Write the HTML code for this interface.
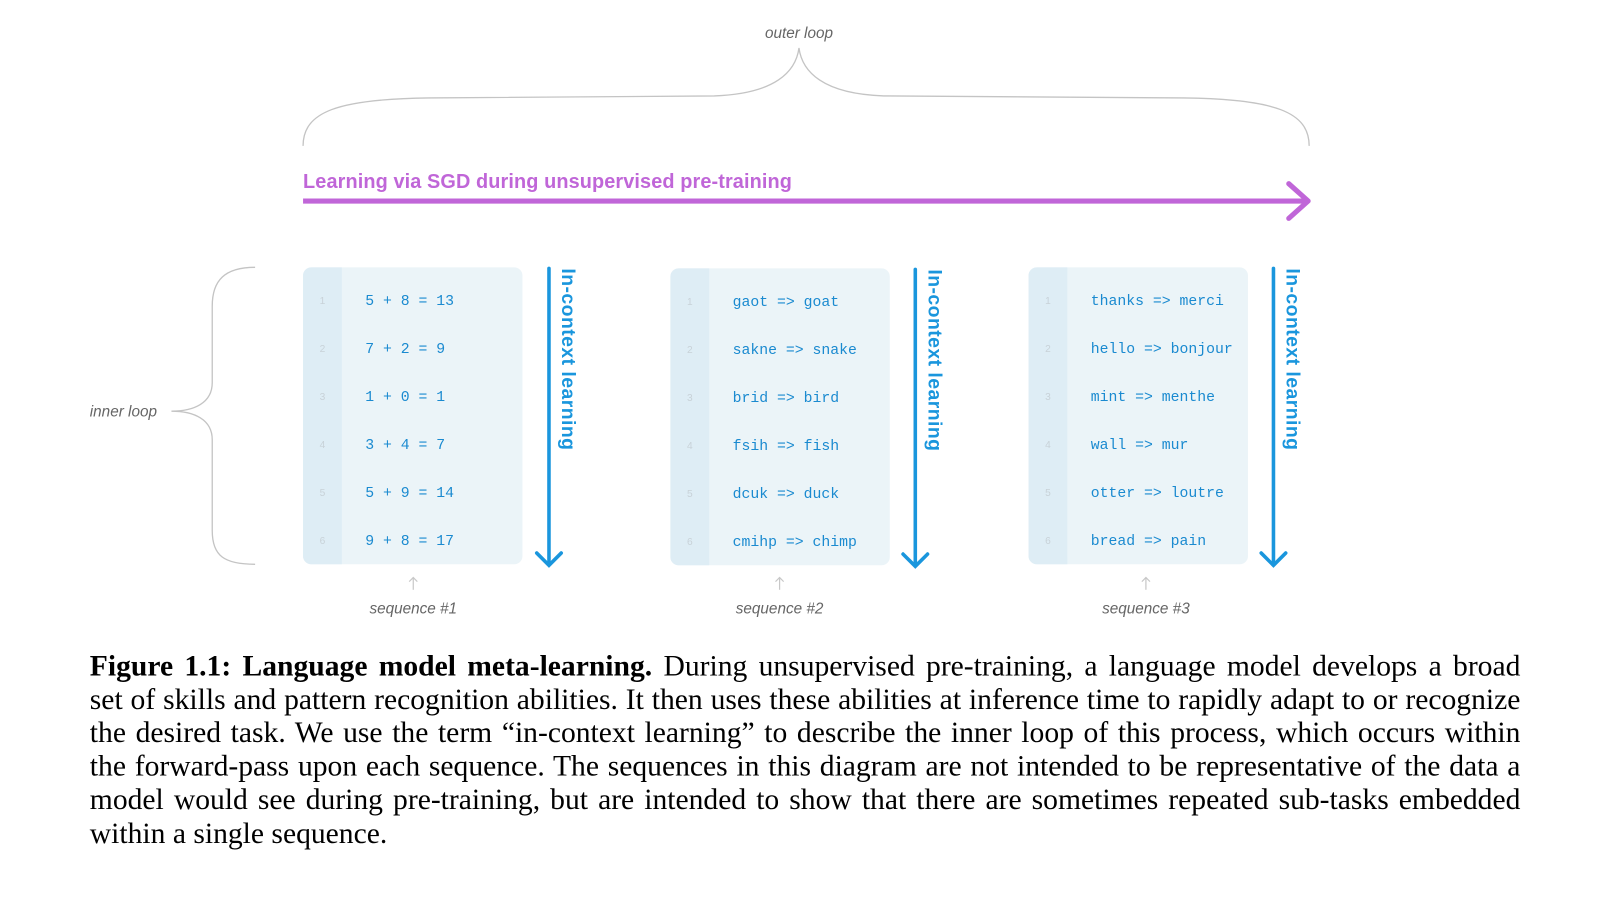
<!DOCTYPE html>
<html><head><meta charset="utf-8"><style>
body{margin:0;background:#fff;width:1600px;height:894px;overflow:hidden;position:relative}
#wrap{position:absolute;left:0;top:0;width:1600px;height:894px;transform:scale(1.0204);transform-origin:0 0}
svg{position:absolute;left:0;top:0}
.cap{position:absolute;left:88px;width:1402px;top:637px;font-family:"Liberation Serif",serif;font-size:29px;line-height:32.7px;color:#000}
.cap div{text-align:justify;text-align-last:justify;white-space:nowrap;overflow:visible}
.cap div.l{text-align-last:left}
</style></head><body><div id="wrap">
<svg width="1600" height="894" xmlns="http://www.w3.org/2000/svg">
<g fill="none" stroke="#c4c4c4" stroke-width="1.3">
<path d="M297,143 C297,110 330,97 420,96 L700,94 C760,92 780,70 783,47 C786,70 806,92 866,94 L1160,96 C1250,97 1283,110 1283,143"/>
<path d="M250,262 C220,262 208,275 208,300 L208,375 C208,395 190,403 168,403 C190,403 208,411 208,431 L208,520 C208,545 220,553 250,553"/>
</g>
<text x="783" y="37" font-family="Liberation Sans,sans-serif" font-style="italic" font-size="15" fill="#666" text-anchor="middle">outer loop</text>
<text x="88" y="408" font-family="Liberation Sans,sans-serif" font-style="italic" font-size="15" fill="#666">inner loop</text>
<text x="297" y="184" font-family="Liberation Sans,sans-serif" font-weight="bold" font-size="19.5" fill="#c066d8" textLength="479">Learning via SGD during unsupervised pre-training</text>
<line x1="297" y1="197" x2="1281" y2="197" stroke="#c066d8" stroke-width="5"/>
<polyline points="1263,180 1282,197 1263,214" fill="none" stroke="#c066d8" stroke-width="5" stroke-linecap="round" stroke-linejoin="round"/>

<g font-family="Liberation Mono,monospace" font-size="14.5" fill="#1a8ad0">
<rect x="297" y="262" width="215" height="291" rx="8" fill="#ebf4f8"/>
<path d="M305,262 H335 V553 H305 A8,8 0 0 1 297,545 V270 A8,8 0 0 1 305,262 Z" fill="#deedf5"/>
<text x="358" y="299">5 + 8 = 13</text><text x="358" y="346">7 + 2 = 9</text><text x="358" y="393">1 + 0 = 1</text><text x="358" y="440">3 + 4 = 7</text><text x="358" y="487">5 + 9 = 14</text><text x="358" y="534">9 + 8 = 17</text>
<rect x="657" y="263" width="215" height="291" rx="8" fill="#ebf4f8"/>
<path d="M665,263 H695 V554 H665 A8,8 0 0 1 657,546 V271 A8,8 0 0 1 665,263 Z" fill="#deedf5"/>
<text x="718" y="300">gaot =&gt; goat</text><text x="718" y="347">sakne =&gt; snake</text><text x="718" y="394">brid =&gt; bird</text><text x="718" y="441">fsih =&gt; fish</text><text x="718" y="488">dcuk =&gt; duck</text><text x="718" y="535">cmihp =&gt; chimp</text>
<rect x="1008" y="262" width="215" height="291" rx="8" fill="#ebf4f8"/>
<path d="M1016,262 H1046 V553 H1016 A8,8 0 0 1 1008,545 V270 A8,8 0 0 1 1016,262 Z" fill="#deedf5"/>
<text x="1069" y="299">thanks =&gt; merci</text><text x="1069" y="346">hello =&gt; bonjour</text><text x="1069" y="393">mint =&gt; menthe</text><text x="1069" y="440">wall =&gt; mur</text><text x="1069" y="487">otter =&gt; loutre</text><text x="1069" y="534">bread =&gt; pain</text>
</g>
<g font-family="Liberation Sans,sans-serif" font-size="10" fill="#c8d2d8" text-anchor="middle">
<text x="316" y="298">1</text><text x="316" y="345">2</text><text x="316" y="392">3</text><text x="316" y="439">4</text><text x="316" y="486">5</text><text x="316" y="533">6</text>
<text x="676" y="299">1</text><text x="676" y="346">2</text><text x="676" y="393">3</text><text x="676" y="440">4</text><text x="676" y="487">5</text><text x="676" y="534">6</text>
<text x="1027" y="298">1</text><text x="1027" y="345">2</text><text x="1027" y="392">3</text><text x="1027" y="439">4</text><text x="1027" y="486">5</text><text x="1027" y="533">6</text>
</g>
<g stroke="#1a96dd" stroke-width="3.5" fill="none" stroke-linecap="round">
<line x1="538" y1="263" x2="538" y2="553"/><polyline points="526,542 538,554 550,542"/>
<line x1="897" y1="264" x2="897" y2="554"/><polyline points="885,543 897,555 909,543"/>
<line x1="1248" y1="263" x2="1248" y2="553"/><polyline points="1236,542 1248,554 1260,542"/>
</g>
<g font-family="Liberation Sans,sans-serif" font-weight="bold" font-size="19" fill="#1a96dd">
<text transform="translate(551,263) rotate(90)" textLength="178">In-context learning</text>
<text transform="translate(910,264) rotate(90)" textLength="178">In-context learning</text>
<text transform="translate(1261,263) rotate(90)" textLength="178">In-context learning</text>
</g>
<g stroke="#c8c8c8" stroke-width="1.2" fill="none">
<line x1="405" y1="566" x2="405" y2="578"/><polyline points="401,570 405,566 409,570"/>
<line x1="764" y1="566" x2="764" y2="578"/><polyline points="760,570 764,566 768,570"/>
<line x1="1123" y1="566" x2="1123" y2="578"/><polyline points="1119,570 1123,566 1127,570"/>
</g>
<g font-family="Liberation Sans,sans-serif" font-style="italic" font-size="15" fill="#666" text-anchor="middle">
<text x="405" y="601">sequence #1</text><text x="764" y="601">sequence #2</text><text x="1123" y="601">sequence #3</text>
</g>
</svg>
<div class="cap">
<div><b>Figure 1.1: Language model meta-learning.</b> During unsupervised pre-training, a language model develops a broad</div>
<div>set of skills and pattern recognition abilities. It then uses these abilities at inference time to rapidly adapt to or recognize</div>
<div>the desired task. We use the term “in-context learning” to describe the inner loop of this process, which occurs within</div>
<div>the forward-pass upon each sequence. The sequences in this diagram are not intended to be representative of the data a</div>
<div>model would see during pre-training, but are intended to show that there are sometimes repeated sub-tasks embedded</div>
<div class="l">within a single sequence.</div>
</div>
</div></body></html>
